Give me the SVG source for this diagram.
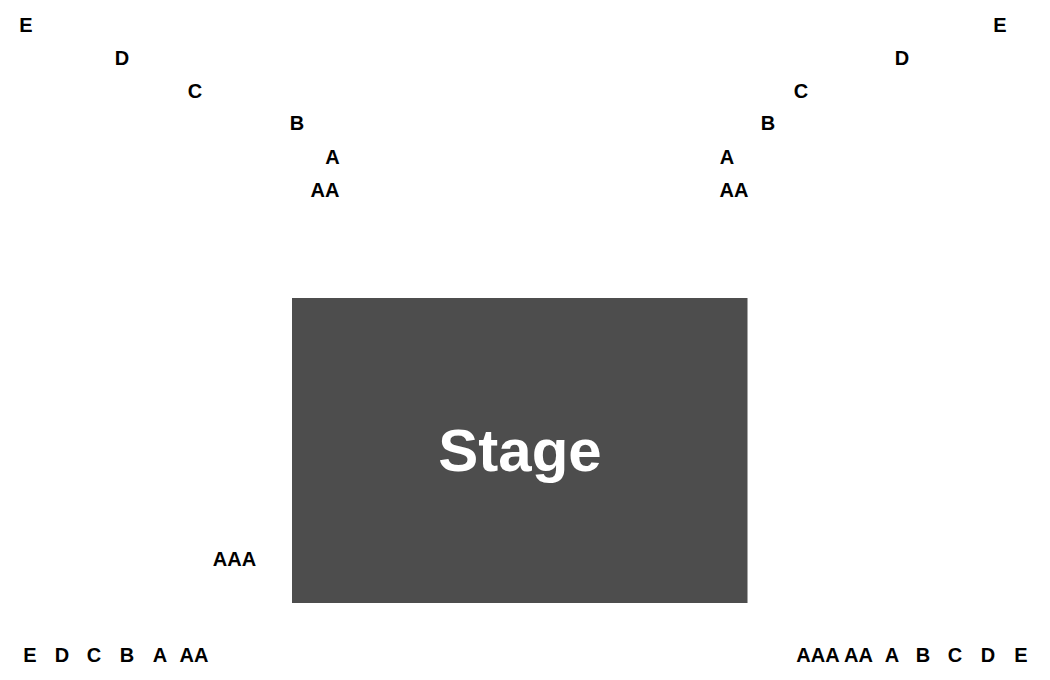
<svg xmlns="http://www.w3.org/2000/svg" width="1050" height="680" viewBox="0 0 1050 680">
<style>
text{font-family:"Liberation Sans",Arial,sans-serif;font-weight:700;fill:#000;font-size:20px;text-anchor:middle}
#stage text{fill:#fff;font-size:60px}
</style>
<rect width="1050" height="680" fill="#fff"/>
<g id="stage"><rect x="292" y="298" width="455.500" height="305" fill="#4d4d4d"/><text x="520" y="471">Stage</text></g>
<g id="rows-upper-left">
<text x="26" y="32">E</text><text x="122" y="65">D</text><text x="195" y="98">C</text><text x="297" y="130">B</text><text x="332.500" y="164">A</text><text x="325" y="197">AA</text>
</g>
<g id="rows-upper-right">
<text x="1000" y="32">E</text><text x="902" y="65">D</text><text x="801" y="98">C</text><text x="768" y="130">B</text><text x="727" y="164">A</text><text x="734" y="197">AA</text>
</g>
<g id="row-aaa-left"><text x="234.500" y="566">AAA</text></g>
<g id="rows-bottom-left">
<text x="30" y="662">E</text><text x="62" y="662">D</text><text x="94" y="662">C</text><text x="127" y="662">B</text><text x="160" y="662">A</text><text x="194" y="662">AA</text>
</g>
<g id="rows-bottom-right">
<text x="818" y="662">AAA</text><text x="858.500" y="662">AA</text><text x="892" y="662">A</text><text x="923" y="662">B</text><text x="955" y="662">C</text><text x="988" y="662">D</text><text x="1021" y="662">E</text>
</g>
</svg>
